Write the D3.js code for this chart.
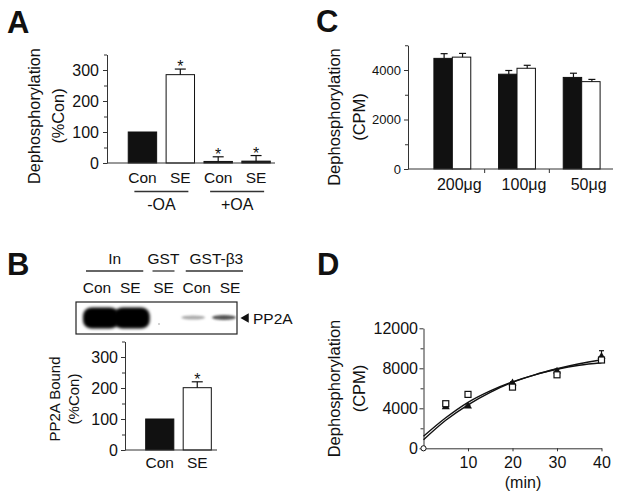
<!DOCTYPE html>
<html><head><meta charset="utf-8">
<script src="https://cdn.jsdelivr.net/npm/d3@7"></script>
<style>
body{margin:0;background:#fff}
svg text{font-family:"Liberation Sans",Arial,Helvetica,sans-serif;fill:#111}
</style>
</head><body>
<svg id="c" width="624" height="500"></svg>
<script>
// ---------- DATA ----------
// Panel A
const aCats = ["Con", "SE", "Con", "SE"];
const aGroups = ["-OA", "+OA"];
const aValues = [100, 285, 5, 6];
const aErrors = [0, 18, 15, 18];
const aSig = [false, true, true, true];
const aTicks = [0, 100, 200, 300];
const aMinorTicks = [50, 150, 250, 350];
// Panel B (blot + bars)
const bLanes = ["Con", "SE", "SE", "Con", "SE"];
const bLaneGroups = ["In", "GST", "GST-β3"];
const bLaneGroupOf = [0, 0, 1, 2, 2];
const bBandIntensity = [1, 1, 0, 0.35, 0.7];
const bBandLabel = "PP2A";
const bCats = ["Con", "SE"];
const bValues = [100, 201];
const bErrors = [0, 19];
const bSig = [false, true];
const bTicks = [0, 100, 200, 300];
const bMinorTicks = [50, 150, 250, 350];
// Panel C
const cCats = ["200μg", "100μg", "50μg"];
const cBlack = [4470, 3830, 3700];
const cBlackErr = [190, 150, 170];
const cWhite = [4520, 4070, 3530];
const cWhiteErr = [150, 120, 90];
const cTicks = [0, 2000, 4000];
const cMinorTicks = [1000, 3000, 5000];
// Panel D
const dTimes = [5, 10, 20, 30, 40];
const dOpen = [4460, 5390, 6120, 7350, 8830];
const dOpenErr = [150, 250, 180, 220, 150];
const dFilled = [4130, 4200, 6510, 7700, 9160];
const dFilledErr = [120, 120, 150, 220, 600];
const dFitX = [0, 5, 10, 15, 20, 25, 30, 35, 40];
const dFitOpen = [1200, 3050, 4600, 5750, 6650, 7350, 7900, 8300, 8550];
const dFitFilled = [850, 2800, 4350, 5600, 6600, 7350, 7950, 8450, 8850];
const dXTicks = [10, 20, 30, 40];
const dYTicks = [0, 4000, 8000, 12000];
const dYMinorTicks = [2000, 6000, 10000];

// ---------- HELPERS ----------
const svg = d3.select("#c");
const INK = "#111";
const fmt = d3.format("d");

function panelLabel(t, x, y) {
  svg.append("text").attr("x", x).attr("y", y).attr("font-size", 31)
    .attr("font-weight", "bold").text(t);
}
function yAxis(scale, x, major, minor, fs, pad) {
  const g = svg.append("g").attr("transform", `translate(${x},0)`);
  g.call(d3.axisLeft(scale).tickValues(major).tickSize(4).tickSizeOuter(0).tickPadding(pad).tickFormat(fmt));
  const gm = g.append("g").call(d3.axisLeft(scale).tickValues(minor).tickSize(3).tickFormat(""));
  gm.select(".domain").remove();
  g.attr("font-family", null).attr("font-size", null);
  g.selectAll("text").attr("font-size", fs).attr("fill", INK);
  g.selectAll("line,path").attr("stroke", "#333").attr("stroke-width", 1);
  return g;
}
function hLine(x1, x2, y, w) {
  svg.append("line").attr("x1", x1).attr("x2", x2).attr("y1", y).attr("y2", y)
    .attr("stroke", "#333").attr("stroke-width", w || 1);
}
function rotLabel(lines, xs, cy, fs) {
  lines.forEach((t, i) => {
    svg.append("text").attr("transform", `translate(${xs[i]},${cy}) rotate(-90)`)
      .attr("text-anchor", "middle").attr("font-size", fs).text(t);
  });
}
function errBar(x, yTop, yBase, cap) {
  svg.append("line").attr("x1", x).attr("x2", x).attr("y1", yBase).attr("y2", yTop)
    .attr("stroke", INK).attr("stroke-width", 1.2);
  svg.append("line").attr("x1", x - cap / 2).attr("x2", x + cap / 2).attr("y1", yTop).attr("y2", yTop)
    .attr("stroke", INK).attr("stroke-width", 1.2);
}
function star(x, yTop) {
  svg.append("text").attr("x", x).attr("y", yTop + 3).attr("text-anchor", "middle")
    .attr("font-size", 16).text("*");
}

// ---------- PANEL A ----------
panelLabel("A", 7, 33);
const yA = d3.scaleLinear([0, 350], [163, 54.5]);
const xA = d3.scaleBand(d3.range(aCats.length), [123.5, 275]).paddingInner(0.25).paddingOuter(0.125);
aValues.forEach((v, i) => {
  const isWhite = i % 2 === 1 && v > 50;
  svg.append("rect").attr("x", xA(i)).attr("width", xA.bandwidth())
    .attr("y", yA(v)).attr("height", yA(0) - yA(v))
    .attr("fill", isWhite ? "#fff" : INK).attr("stroke", INK).attr("stroke-width", 1);
  const cx = xA(i) + xA.bandwidth() / 2;
  if (aErrors[i] > 0) errBar(cx, yA(v + aErrors[i]), yA(v), 11);
  if (aSig[i]) star(cx, yA(v + aErrors[i]));
  svg.append("text").attr("x", cx).attr("y", 183).attr("text-anchor", "middle")
    .attr("font-size", 15.5).text(aCats[i]);
});
yAxis(yA, 107, aTicks, aMinorTicks, 16, 4);
hLine(107, 275, 163);
aGroups.forEach((gname, gi) => {
  const c = (xA(gi * 2) + xA(gi * 2 + 1) + xA.bandwidth()) / 2;
  hLine(c - 27, c + 27, 191.5, 1.3);
  svg.append("text").attr("x", c).attr("y", 210).attr("text-anchor", "middle")
    .attr("font-size", 16).text(gname);
});
rotLabel(["Dephosphorylation", "(%Con)"], [40, 63.5], 116, 16.3);

// ---------- PANEL B ----------
panelLabel("B", 7, 275);
const laneX = d3.scalePoint(d3.range(bLanes.length), [97, 230]);
const bandX = d3.scalePoint(d3.range(bLanes.length), [101, 224]);
bLanes.forEach((t, i) => {
  svg.append("text").attr("x", laneX(i)).attr("y", 293).attr("text-anchor", "middle")
    .attr("font-size", 15.5).text(t);
});
bLaneGroups.forEach((gname, gi) => {
  const idx = d3.range(bLanes.length).filter(i => bLaneGroupOf[i] === gi);
  const x1 = idx.length > 1 ? laneX(idx[0]) - 11 : laneX(idx[0]) - 11;
  const x2 = idx.length > 1 ? laneX(idx[idx.length - 1]) + 13 : laneX(idx[0]) + 11;
  hLine(x1, x2, 271, 1.3);
  svg.append("text").attr("x", (x1 + x2) / 2 + (gi === 2 ? 2 : 0)).attr("y", 264).attr("text-anchor", "middle")
    .attr("font-size", 15.5).text(gname);
});
const defs = svg.append("defs");
defs.append("filter").attr("id", "blur").attr("x", "-30%").attr("y", "-60%").attr("width", "160%").attr("height", "220%")
  .append("feGaussianBlur").attr("stdDeviation", 1.6);
defs.append("filter").attr("id", "blur2").attr("x", "-30%").attr("y", "-200%").attr("width", "160%").attr("height", "500%")
  .append("feGaussianBlur").attr("stdDeviation", 0.8);
defs.append("clipPath").attr("id", "blotclip").append("rect")
  .attr("x", 76).attr("y", 302).attr("width", 161).attr("height", 32);
svg.append("rect").attr("x", 76).attr("y", 302).attr("width", 161).attr("height", 32)
  .attr("fill", "#fff").attr("stroke", "#222").attr("stroke-width", 1.2);
const blot = svg.append("g").attr("clip-path", "url(#blotclip)");
bBandIntensity.forEach((v, i) => {
  if (v <= 0) return;
  if (v >= 0.9) {
    blot.append("rect").attr("x", bandX(i) - 18).attr("width", 36).attr("y", 307.5).attr("height", 21)
      .attr("rx", 9).attr("ry", 8).attr("fill", "#050505").attr("filter", "url(#blur)");
  } else {
    const g = Math.round(255 * (1 - v * 0.95));
    blot.append("ellipse").attr("cx", bandX(i)).attr("cy", 317.5).attr("rx", 12).attr("ry", 1.6 + v * 1.2)
      .attr("fill", `rgb(${g},${g},${g})`).attr("filter", "url(#blur2)");
  }
});
blot.append("circle").attr("cx", 159).attr("cy", 324).attr("r", 0.8).attr("fill", "#999");
svg.append("path").attr("d", d3.symbol(d3.symbolTriangle, 40)()).attr("fill", INK)
  .attr("transform", "translate(246,318) rotate(-90)");
svg.append("text").attr("x", 253).attr("y", 323.5).attr("font-size", 15.5).text(bBandLabel);

const yB = d3.scaleLinear([0, 350], [450, 341.5]);
const xB = d3.scaleBand(d3.range(bCats.length), [141, 216]).paddingInner(0.25).paddingOuter(0.125);
bValues.forEach((v, i) => {
  svg.append("rect").attr("x", xB(i)).attr("width", xB.bandwidth())
    .attr("y", yB(v)).attr("height", yB(0) - yB(v))
    .attr("fill", i === 0 ? INK : "#fff").attr("stroke", INK).attr("stroke-width", 1);
  const cx = xB(i) + xB.bandwidth() / 2;
  if (bErrors[i] > 0) errBar(cx, yB(v + bErrors[i]), yB(v), 11);
  if (bSig[i]) star(cx, yB(v + bErrors[i]));
  svg.append("text").attr("x", cx).attr("y", 468).attr("text-anchor", "middle")
    .attr("font-size", 15.5).text(bCats[i]);
});
yAxis(yB, 125, bTicks, bMinorTicks, 16, 3);
hLine(125, 217, 450);
rotLabel(["PP2A Bound", "(%Con)"], [60, 79], 399, 15);

// ---------- PANEL C ----------
panelLabel("C", 316, 32);
const yC = d3.scaleLinear([0, 5000], [169, 45.25]);
const xC = d3.scaleBand(d3.range(cCats.length), [420, 614]).paddingInner(0.43).paddingOuter(0.215);
const xC1 = d3.scaleBand([0, 1], [0, xC.bandwidth()]);
cCats.forEach((cat, i) => {
  [[cBlack, cBlackErr, INK], [cWhite, cWhiteErr, "#fff"]].forEach(([vals, errs, fill], j) => {
    const v = vals[i];
    const x = xC(i) + xC1(j);
    svg.append("rect").attr("x", x).attr("width", xC1.bandwidth())
      .attr("y", yC(v)).attr("height", yC(0) - yC(v))
      .attr("fill", fill).attr("stroke", INK).attr("stroke-width", 1);
    errBar(x + xC1.bandwidth() / 2 + 1, yC(v + errs[i]), yC(v), 7);
  });
  svg.append("text").attr("x", xC(i) + xC.bandwidth() / 2 + 7).attr("y", 190)
    .attr("text-anchor", "middle").attr("font-size", 16).text(cat);
});
yAxis(yC, 408, cTicks, cMinorTicks, 13, 3);
hLine(408, 613, 169);
[1, 2].forEach(k => {
  const bx = 420 + k * xC.step();
  svg.append("line").attr("x1", bx).attr("x2", bx).attr("y1", 169).attr("y2", 173)
    .attr("stroke", "#333");
});
rotLabel(["Dephosphorylation", "(CPM)"], [340, 365], 117, 16.5);

// ---------- PANEL D ----------
panelLabel("D", 317, 275);
const xD = d3.scaleLinear([0, 40], [423.5, 601.5]);
const yD = d3.scaleLinear([0, 12000], [448.3, 328.3]);
yAxis(yD, 423.5, dYTicks, dYMinorTicks, 16, 1.5);
const gx = svg.append("g").attr("transform", "translate(0,448.3)")
  .call(d3.axisBottom(xD).tickValues(dXTicks).tickSize(3).tickSizeOuter(0).tickPadding(5).tickFormat(fmt));
gx.attr("font-family", null).attr("font-size", null);
gx.selectAll("text").attr("font-size", 16).attr("fill", INK);
gx.selectAll("line,path").attr("stroke", "#333");
svg.append("text").attr("x", 523).attr("y", 488).attr("text-anchor", "middle")
  .attr("font-size", 16).text("(min)");
rotLabel(["Dephosphorylation", "(CPM)"], [340, 365], 388.5, 16.5);

const line = d3.line().x((d, i) => xD(dFitX[i])).y(d => yD(d)).curve(d3.curveMonotoneX);
[dFitOpen, dFitFilled].forEach(arr => {
  svg.append("path").attr("d", line(arr)).attr("fill", "none")
    .attr("stroke", INK).attr("stroke-width", 1.4);
});
dTimes.forEach((t, i) => {
  const x = xD(t);
  errBar(x, yD(dOpen[i] + dOpenErr[i]), yD(dOpen[i] - dOpenErr[i]), 5);
  errBar(x, yD(dFilled[i] + dFilledErr[i]), yD(dFilled[i] - dFilledErr[i]), 5);
  svg.append("path").attr("d", d3.symbol(d3.symbolTriangle, 28)())
    .attr("transform", `translate(${x},${yD(dFilled[i])})`).attr("fill", INK);
  svg.append("rect").attr("x", x - 3).attr("y", yD(dOpen[i]) - 3).attr("width", 6).attr("height", 6)
    .attr("fill", "#fff").attr("stroke", INK).attr("stroke-width", 1.2);
});
svg.append("circle").attr("cx", xD(0)).attr("cy", yD(0)).attr("r", 2.6)
  .attr("fill", "#fff").attr("stroke", INK).attr("stroke-width", 1);
</script>
</body></html>
